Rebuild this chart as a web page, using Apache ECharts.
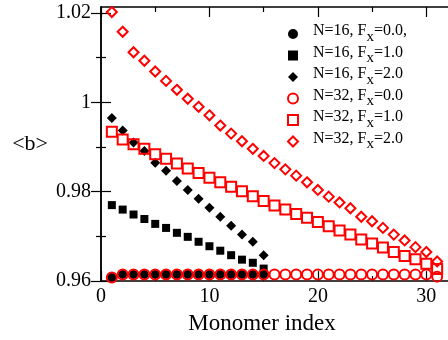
<!DOCTYPE html>
<html>
<head>
<meta charset="utf-8">
<script src="https://cdn.jsdelivr.net/npm/echarts@6/dist/echarts.min.js"></script>
<style>
html,body{margin:0;padding:0;background:#fff;}
#chart{width:448px;height:340px;}
</style>
</head>
<body>
<div id="chart"></div>
<script>
// Monomer indices
var idx16 = [1,2,3,4,5,6,7,8,9,10,11,12,13,14,15];
var idx32 = [1,2,3,4,5,6,7,8,9,10,11,12,13,14,15,16,17,18,19,20,21,22,23,24,25,26,27,28,29,30,31];

// <b> values
var n16f0 = [0.9608,0.9615,0.9615,0.9615,0.9615,0.9615,0.9615,0.9615,0.9615,0.9615,0.9615,0.9615,0.9615,0.9615,0.9615];
var n16f1 = [0.9770,0.9760,0.9749,0.9739,0.9728,0.9719,0.9708,0.9699,0.9688,0.9678,0.9668,0.9658,0.9648,0.9641,0.9628];
var n16f2 = [0.9965,0.9937,0.9910,0.9891,0.9865,0.9847,0.9824,0.9804,0.9784,0.9764,0.9744,0.9724,0.9704,0.9688,0.9658];
var n32f0 = [0.9608,0.9615,0.9615,0.9615,0.9615,0.9615,0.9615,0.9615,0.9615,0.9615,0.9615,0.9615,0.9615,0.9615,0.9615,0.9615,0.9615,0.9615,0.9615,0.9615,0.9615,0.9615,0.9615,0.9615,0.9615,0.9615,0.9615,0.9615,0.9615,0.9615,0.9610];
var n32f1 = [0.9934,0.9917,0.9906,0.9896,0.9884,0.9874,0.9863,0.9852,0.9842,0.9831,0.9821,0.9811,0.9801,0.9790,0.9779,0.9769,0.9760,0.9750,0.9742,0.9732,0.9723,0.9713,0.9704,0.9693,0.9684,0.9675,0.9665,0.9656,0.9649,0.9639,0.9627];
var n32f2 = [1.0202,1.0158,1.0112,1.0093,1.0069,1.0048,1.0028,1.0008,0.9990,0.9971,0.9948,0.9930,0.9913,0.9896,0.9880,0.9864,0.9850,0.9836,0.9821,0.9804,0.9789,0.9776,0.9763,0.9744,0.9734,0.9719,0.9704,0.9691,0.9676,0.9665,0.9644];

// Tick values
var xMajor = [0,10,20,30];
var xMinor = [5,15,25];
var yMajor = [0.96,0.98,1.00,1.02];
var yMinor = [0.97,0.99,1.01];
var yLabels = ['0.96','0.98','1','1.02'];

// Legend text pieces
var seriesNames = ['s1','s2','s3','s4','s5','s6'];
var legPre = ['N=16, F','N=16, F','N=16, F','N=32, F','N=32, F','N=32, F'];
var legSub = ['x','x','x','x','x','x'];
var legPost = ['=0.0,','=1.0','=2.0','=0.0','=1.0','=2.0'];

function pairs(xs, ys){ return xs.map(function(x,i){ return [x, ys[i]]; }); }

var FONT = 'Liberation Serif';
var chart = echarts.init(document.getElementById('chart'), null, {renderer:'canvas'});

function xAx(pos, vals, len, showLine, labels){
  return {
    type:'value', position:pos, min:0, max:32,
    axisLine:{show:showLine, lineStyle:{color:'#000', width:1.5}},
    axisTick:{show:true, inside:true, length:len, customValues:vals, lineStyle:{color:'#000', width:1.2}},
    axisLabel:{show:!!labels, customValues: labels ? xMajor : undefined, fontFamily:FONT, fontSize:20, color:'#000', margin:6},
    splitLine:{show:false}
  };
}
function yAx(pos, vals, len, showLine, labels){
  return {
    type:'value', position:pos, min:0.96, max:1.02133,
    axisLine:{show:showLine, lineStyle:{color:'#000', width:1.5}},
    axisTick:{show:true, inside:true, length:len, customValues:vals, lineStyle:{color:'#000', width:1.2}},
    axisLabel:{show:!!labels, customValues: labels ? yMajor : undefined, fontFamily:FONT, fontSize:20, color:'#000', margin:10,
      formatter:function(v){ for (var i=0;i<yMajor.length;i++){ if (Math.abs(v-yMajor[i])<1e-6) return yLabels[i]; } return ''; }},
    splitLine:{show:false}
  };
}

var xAxes = [xAx('bottom', xMajor, 10, true, true), xAx('bottom', xMinor, 5, false, false), xAx('top', xMajor, 10, true, false), xAx('top', xMinor, 5, false, false)];
xAxes[0].name = 'Monomer index';
xAxes[0].nameLocation = 'middle';
xAxes[0].nameGap = 27;
xAxes[0].nameTextStyle = {fontFamily:FONT, fontSize:23, color:'#000', padding:[0,25,0,0]};

var yAxes = [yAx('left', yMajor, 10, true, true), yAx('left', yMinor, 5, false, false), yAx('right', yMajor, 10, true, false), yAx('right', yMinor, 5, false, false)];
yAxes[0].name = '<b>';
yAxes[0].nameLocation = 'middle';
yAxes[0].nameRotate = 0;
yAxes[0].nameGap = 53;
yAxes[0].nameTextStyle = {fontFamily:FONT, fontSize:22, color:'#000', padding:[10,0,0,0]};

var seriesData = [pairs(idx16,n16f0), pairs(idx16,n16f1), pairs(idx16,n16f2), pairs(idx32,n32f0), pairs(idx32,n32f1), pairs(idx32,n32f2)];
var symbols = ['circle','rect','diamond','circle','rect','diamond'];
var sizes = [9,8,10,10,10,10];

var series = seriesData.map(function(d,i){
  var red = i >= 3;
  return {
    name: seriesNames[i], type:'scatter', data:d, symbol:symbols[i], symbolSize:sizes[i],
    xAxisIndex:0, yAxisIndex:0, z: 2 + i,
    itemStyle: red ? {color:'rgba(0,0,0,0)', borderColor:'#ff0000', borderWidth:2, opacity:1} : {color:'#000', borderWidth:0, opacity:1},
    emphasis:{disabled:true}
  };
});

chart.setOption({
  animation:false,
  backgroundColor:'#fff',
  grid:{left:101, top:7, width:349, bottom:57, containLabel:false},
  xAxis:xAxes,
  yAxis:yAxes,
  legend:{
    orient:'vertical', left:287, top:23, padding:0, itemGap:0, itemWidth:10, itemHeight:10,
    selectedMode:false, data:seriesNames,
    formatter:function(name){
      var i = seriesNames.indexOf(name);
      return '{p|' + legPre[i] + '}{s|' + legSub[i] + '}{n|' + legPost[i] + '}{h| }';
    },
    textStyle:{
      fontFamily:FONT, color:'#000',
      rich:{
        p:{fontFamily:FONT, fontSize:16, height:12, lineHeight:12, verticalAlign:'top', color:'#000', padding:[0,0,0,10]},
        n:{fontFamily:FONT, fontSize:16, height:12, lineHeight:12, verticalAlign:'top', color:'#000'},
        s:{fontFamily:FONT, fontSize:15, height:12, lineHeight:12, verticalAlign:'bottom', color:'#000'},
        h:{fontSize:1, height:18, lineHeight:18}
      }
    }
  },
  series:series
});
</script>
</body>
</html>
